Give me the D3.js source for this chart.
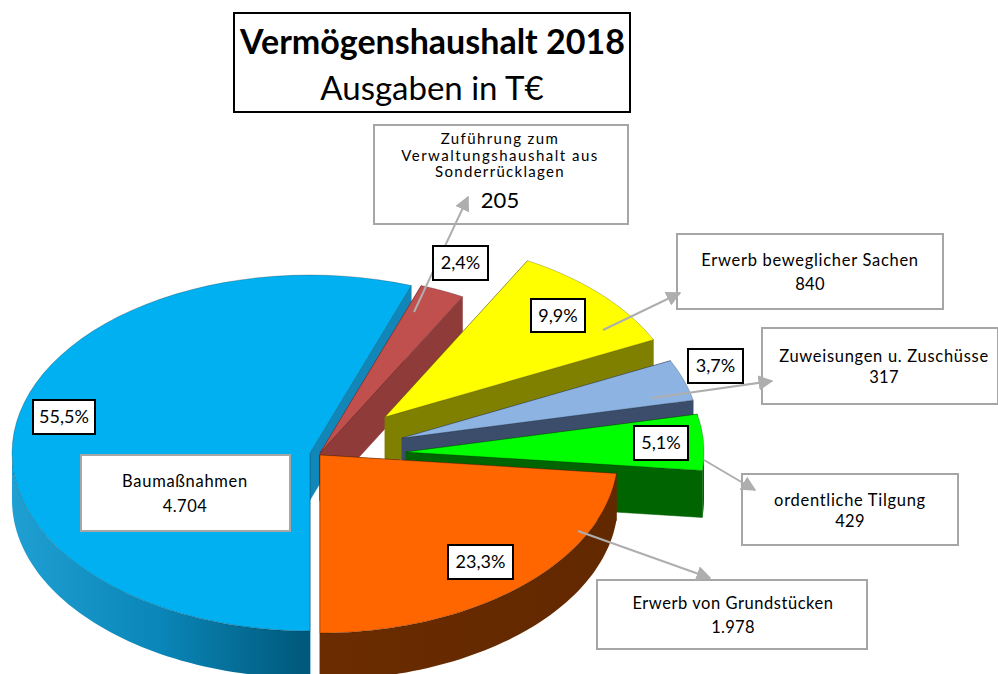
<!DOCTYPE html>
<html><head><meta charset="utf-8">
<script src="https://cdn.jsdelivr.net/npm/d3@7"></script>
<style>html,body{margin:0;padding:0;background:#fff;overflow:hidden}svg{display:block}text{font-family:Lato,"Open Sans",sans-serif;fill:#000}</style>
</head><body><svg id="c" width="998" height="674"></svg>
<script>
// Data
const categories = ["Baumaßnahmen","Zuführung zum Verwaltungshaushalt aus Sonderrücklagen","Erwerb beweglicher Sachen","Zuweisungen u. Zuschüsse","ordentliche Tilgung","Erwerb von Grundstücken"];
const values = [4704,205,840,317,429,1978];
const valueLabels = ["4.704","205","840","317","429","1.978"];
const percentLabels = ["55,5%","2,4%","9,9%","3,7%","5,1%","23,3%"];
const topColors = ["#00b0f0","#c0504d","#ffff00","#8db3e2","#00ff00","#ff6600"];
const wallColors = ["url(#blueSide)","#8e3b39","#808000","#3b4d6b","#006400","url(#orangeSide)"];
const faceColors = ["#1087b8","#8e3b39","#808000","#3b4d6b","#006400","#662a00"];
// Layout
const apex = [[310,453],[320,453],[385,417],[402,438],[406,452],[320,455]];
const rx = 298, ry = 178, depth = 47;
const pctBoxes = [[33,400,62,34],[433,246,55,34],[531,299,54,33],[688,349,55,34],[634,426,54,34],[448,545,65,34]];
const calloutBoxes = [
 {b:[81,455,209,76],lines:[[487,"Baumaßnahmen",16.5,.7],[512,"4.704",16.5,.5]],cx:185},
 {b:[374,125,254,99],lines:[[144,"Zuführung zum",15,1.4],[160.5,"Verwaltungshaushalt aus",15,1.5],[177,"Sonderrücklagen",15,1.3],[208,"205",22,0]],cx:500},
 {b:[677,234,266,75],lines:[[266,"Erwerb beweglicher Sachen",16.5,.7],[290,"840",16.5,.3]],cx:810},
 {b:[762,328,236,76],lines:[[362,"Zuweisungen u. Zuschüsse",16.5,.7],[383,"317",16.5,.3]],cx:884},
 {b:[742,474,216,71],lines:[[506,"ordentliche Tilgung",16.5,.7],[527,"429",16.5,.3]],cx:850},
 {b:[597,580,270,69],lines:[[609,"Erwerb von Grundstücken",16.5,.55],[633,"1.978",16.5,.3]],cx:733}
];
const leaders = [[[414,312],[468,197]],[[603,330],[680,293]],[[652,398],[772,381]],[[704,460],[755,490]],[[578,531],[710,578]]];
const leaderColor = "#aeaeae";

const svg = d3.select("#c");
const defs = svg.append("defs");
function grad(id,x1,x2,stops){
  const g = defs.append("linearGradient").attr("id",id).attr("gradientUnits","userSpaceOnUse")
    .attr("x1",x1).attr("x2",x2).attr("y1",0).attr("y2",0);
  stops.forEach(s=>g.append("stop").attr("offset",s[0]).attr("stop-color",s[1]));
}
grad("blueSide",12,308,[[0,"#1f9fd2"],[0.5,"#0a86b8"],[1,"#00587a"]]);
grad("orangeSide",320,618,[[0,"#6b2c00"],[1,"#622800"]]);
const mk = defs.append("marker").attr("id","arrow").attr("viewBox","0 0 10 10").attr("refX",9).attr("refY",5)
  .attr("markerUnits","userSpaceOnUse").attr("markerWidth",15).attr("markerHeight",15).attr("orient","auto");
mk.append("path").attr("d","M0,0L10,5L0,10Z").attr("fill",leaderColor);

const pie = d3.pie().sort(null).startAngle(Math.PI).endAngle(3*Math.PI);
const arcs = pie(values);
const line = d3.line();
const pt = (i,a,dz=0)=>[apex[i][0]+rx*Math.sin(a), apex[i][1]-ry*Math.cos(a)+dz];
const arcPts = (i,a0,a1,dz)=>d3.range(0,61).map(k=>pt(i,a0+(a1-a0)*k/60,dz));
// Only the front half of the rim can be seen (angles run from pi to 3*pi)
const frontWindows = [[Math.PI/2,3*Math.PI/2],[5*Math.PI/2,7*Math.PI/2]];

arcs.forEach((d,i)=>{
  const a = apex[i], gg = svg.append("g");
  const top = [a,...arcPts(i,d.startAngle,d.endAngle,0)];
  const startFace = [a,pt(i,d.startAngle),pt(i,d.startAngle,depth),[a[0],a[1]+depth]];
  const endFace = [a,pt(i,d.endAngle),pt(i,d.endAngle,depth),[a[0],a[1]+depth]];
  [startFace,endFace].forEach(p=>gg.append("path").attr("d",line(p)+"Z").attr("fill",faceColors[i]).attr("stroke",faceColors[i]).attr("stroke-width",0.5));
  frontWindows.forEach(([f0,f1])=>{
    const w0 = Math.max(d.startAngle,f0), w1 = Math.min(d.endAngle,f1);
    if (w1 > w0) {
      const wall = [...arcPts(i,w0,w1,0),...arcPts(i,w0,w1,depth).reverse()];
      gg.append("path").attr("d",line(wall)+"Z").attr("fill",wallColors[i]);
    }
  });
  gg.append("path").attr("d",line(top)+"Z").attr("fill",topColors[i]).attr("stroke","rgba(0,0,0,.28)").attr("stroke-width",0.8);
});

// Title
svg.append("rect").attr("x",234).attr("y",13).attr("width",396).attr("height",99).attr("fill","#fff").attr("stroke","#000").attr("stroke-width",2);
svg.append("text").attr("x",432.5).attr("y",54).attr("text-anchor","middle").attr("font-size",34).attr("font-weight",700).text("Vermögenshaushalt 2018");
svg.append("text").attr("x",432).attr("y",100).attr("text-anchor","middle").attr("font-size",33).text("Ausgaben in T€");

// Callouts
calloutBoxes.forEach(c=>{
  svg.append("rect").attr("x",c.b[0]).attr("y",c.b[1]).attr("width",c.b[2]).attr("height",c.b[3]).attr("fill","#fff").attr("stroke","#a6a6a6").attr("stroke-width",2);
  c.lines.forEach(l=>svg.append("text").attr("x",c.cx).attr("y",l[0]).attr("text-anchor","middle").attr("font-size",l[2]).attr("letter-spacing",l[3]).text(l[1]));
});
// Leaders
leaders.forEach(l=>svg.append("path").attr("d",line(l)).attr("fill","none").attr("stroke",leaderColor).attr("stroke-width",2).attr("marker-end","url(#arrow)"));
// Percent boxes
pctBoxes.forEach((b,i)=>{
  svg.append("rect").attr("x",b[0]).attr("y",b[1]).attr("width",b[2]).attr("height",b[3]).attr("fill","#fff").attr("stroke","#000").attr("stroke-width",2);
  svg.append("text").attr("x",b[0]+b[2]/2).attr("y",b[1]+b[3]/2+6).attr("text-anchor","middle").attr("font-size",18).text(percentLabels[i]);
});
</script></body></html>
